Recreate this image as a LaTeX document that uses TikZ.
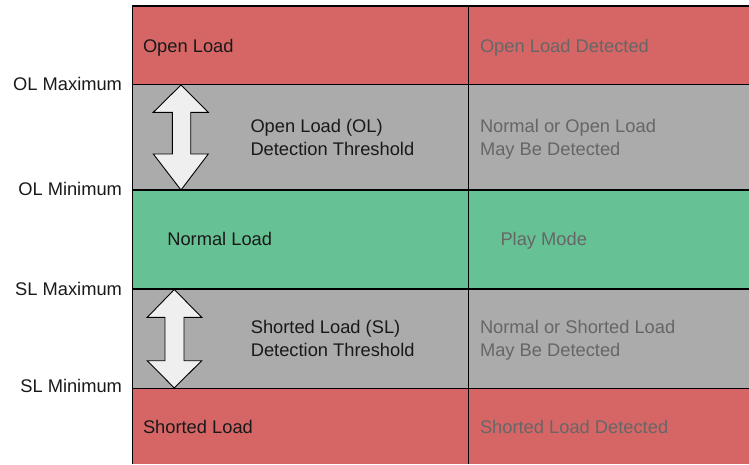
\documentclass[tikz,border=0pt]{standalone}
\usepackage{fontspec}
\setmainfont{Liberation Sans}
\definecolor{rowred}{HTML}{D66666}
\definecolor{rowgray}{HTML}{ABABAB}
\definecolor{rowgreen}{HTML}{66C194}
\definecolor{dimtext}{HTML}{666666}
\definecolor{arrowfill}{HTML}{EFEFEF}
\begin{document}
\begin{tikzpicture}[x=1pt,y=-1pt,
  txt/.style={inner sep=0pt, outer sep=0pt, font=\fontsize{18.3}{22}\selectfont, text=black!90},
  dimtxt/.style={txt, text=dimtext},
  gridline/.style={line width=1.2pt, black},
  dblarrow/.style={draw=black, line width=0.9pt, fill=arrowfill, line join=miter}]
\useasboundingbox (0,0) rectangle (749,464);
% rows
\fill[rowred]   (132.3,6)   rectangle (749,84.5);
\fill[rowgray]  (132.3,84.5) rectangle (749,190);
\fill[rowgreen] (132.3,190) rectangle (749,289);
\fill[rowgray]  (132.3,289) rectangle (749,388.3);
\fill[rowred]   (132.3,388.3) rectangle (749,464);
% double arrows
\draw[dblarrow] (181,85) -- (208.3,112.3) -- (190.7,112.3) -- (190.7,154) -- (208.3,154)
  -- (181,190) -- (153.3,154) -- (172.3,154) -- (172.3,112.3) -- (153.3,112.3) -- cycle;
\draw[dblarrow] (174.3,289.5) -- (201.7,317.3) -- (184,317.3) -- (184,360.7) -- (201.7,360.7)
  -- (174.3,388) -- (147.3,360.7) -- (165,360.7) -- (165,317.3) -- (147.3,317.3) -- cycle;
% grid lines
\coordinate (tl) at (132.3,6);
\coordinate (tr) at (749,6);
\coordinate (bl) at (132.3,464);
\coordinate (dt) at (468.3,6);
\coordinate (db) at (468.3,464);
\draw[gridline] (tr) -- (tl) -- (bl);
\draw[gridline] (dt) -- (db);
\foreach \yy in {84.5,190,289,388.3}
  \draw[gridline] (132.3,\yy) -- (749,\yy);
% left labels
\node[txt, anchor=base east] (olmax) at (122,90.8) {OL Maximum};
\node[txt, anchor=base east] (olmin) at (122,195.8) {OL Minimum};
\node[txt, anchor=base east] (slmax) at (122,295.6) {SL Maximum};
\node[txt, anchor=base east] (slmin) at (122,392.8) {SL Minimum};
% left column
\node[txt, anchor=base west] (ol) at (143,52.3) {Open Load};
\node[txt, anchor=base west] (olt1) at (250.5,132) {Open Load (OL)};
\node[txt, anchor=base west] (olt2) at (250.5,155.3) {Detection Threshold};
\node[txt, anchor=base west] (nl) at (167.3,245.8) {Normal Load};
\node[txt, anchor=base west] (slt1) at (250.8,333) {Shorted Load (SL)};
\node[txt, anchor=base west] (slt2) at (250.8,356.5) {Detection Threshold};
\node[txt, anchor=base west] (sl) at (143,433.4) {Shorted Load};
% right column
\node[dimtxt, anchor=base west] (old) at (480,52.3) {Open Load Detected};
\node[dimtxt, anchor=base west] (nol1) at (480,132) {Normal or Open Load};
\node[dimtxt, anchor=base west] (nol2) at (480,155.3) {May Be Detected};
\node[dimtxt, anchor=base west] (pm) at (500.5,245.8) {Play Mode};
\node[dimtxt, anchor=base west] (nsl1) at (480,333) {Normal or Shorted Load};
\node[dimtxt, anchor=base west] (nsl2) at (480,356.5) {May Be Detected};
\node[dimtxt, anchor=base west] (sld) at (480,433.4) {Shorted Load Detected};
\end{tikzpicture}
\end{document}
